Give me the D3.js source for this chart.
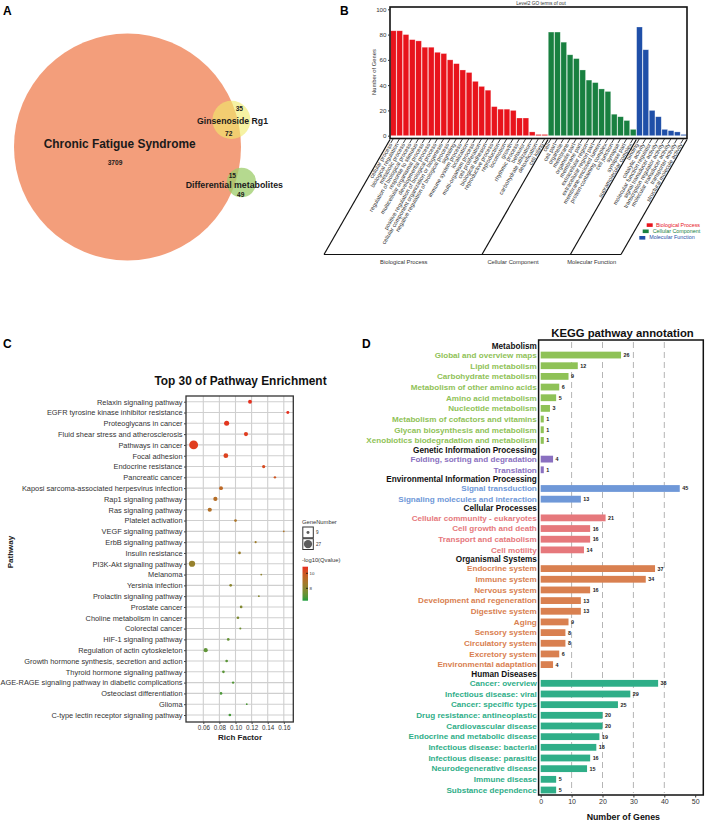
<!DOCTYPE html>
<html><head><meta charset="utf-8">
<script src="https://cdn.jsdelivr.net/npm/d3@7"></script>
<style>body{margin:0;background:#fff}svg{display:block;font-family:"Liberation Sans",Arial,sans-serif}</style>
</head><body><svg id="fig" width="708" height="822"></svg>
<script>
// ---------------- DATA ----------------
// Panel A (Venn)
const vennNames = ["Chronic Fatigue Syndrome", "Ginsenoside Rg1", "Differential metabolites"];
const vennUnique = [3709, 35, 49];
const vennShared = [72, 15]; // CFS ∩ Ginsenoside, CFS ∩ Differential metabolites

// Panel B (GO level 2)
const goBPTerms = ["cellular process","biological regulation","metabolic process","regulation of biological process","response to stimulus","multicellular organismal process","developmental process","positive regulation of biological process","cellular component organization or biogenesis","negative regulation of biological process","signaling","immune system process","localization","multi-organism process","cell proliferation","biological adhesion","reproductive process","reproduction","locomotion","growth","rhythmic process","behavior","carbohydrate utilization","detoxification","cell killing"];
const goBPValues = [83,83,80,76,75,70,70,66,65,60,57,52,50,43,39,36,23,21,21,20,14,14,3,1,1];
const goCCTerms = ["cell","cell part","organelle","membrane","organelle part","membrane part","extracellular region","extracellular region part","membrane-enclosed lumen","protein-containing complex","cell junction","synapse","synapse part","supramolecular complex"];
const goCCValues = [82,82,74,64,61,52,44,42,37,35,17,15,12,5];
const goMFTerms = ["binding","catalytic activity","molecular function regulator","signal transducer activity","transcription regulator activity","molecular transducer activity","transporter activity","structural molecule activity"];
const goMFValues = [86,68,20,15,5,4,3,1];
const goCategories = ["Biological Process","Cellular Component","Molecular Function"];
const goYTicks = [0,20,40,60,80,100];

// Panel C (KEGG enrichment bubble)
const pathways = ["Relaxin signaling pathway","EGFR tyrosine kinase inhibitor resistance","Proteoglycans in cancer","Fluid shear stress and atherosclerosis","Pathways in cancer","Focal adhesion","Endocrine resistance","Pancreatic cancer","Kaposi sarcoma-associated herpesvirus infection","Rap1 signaling pathway","Ras signaling pathway","Platelet activation","VEGF signaling pathway","ErbB signaling pathway","Insulin resistance","PI3K-Akt signaling pathway","Melanoma","Yersinia infection","Prolactin signaling pathway","Prostate cancer","Choline metabolism in cancer","Colorectal cancer","HIF-1 signaling pathway","Regulation of actin cytoskeleton","Growth hormone synthesis, secretion and action","Thyroid hormone signaling pathway","AGE-RAGE signaling pathway in diabetic complications","Osteoclast differentiation","Glioma","C-type lectin receptor signaling pathway"];
const richFactor = [0.118,0.165,0.089,0.113,0.048,0.088,0.135,0.149,0.082,0.075,0.068,0.100,0.160,0.125,0.105,0.046,0.132,0.094,0.129,0.107,0.103,0.106,0.091,0.063,0.089,0.085,0.097,0.082,0.114,0.093];
const geneNumber = [12,9,16,13,29,15,10,7,12,13,13,8,5,6,8,20,5,8,5,8,8,6,8,13,8,8,7,8,5,8];
const negLog10Q = [10.8,10.8,10.7,10.6,10.6,10.5,10.3,10.0,9.4,9.2,9.1,8.9,8.9,8.5,8.4,8.3,8.1,8.0,7.9,7.8,7.7,7.4,7.2,7.1,7.0,7.0,6.9,6.8,6.8,6.7];
const richTicks = [0.06,0.08,0.10,0.12,0.14,0.16];
const sizeLegendValues = [9, 27];
const colorLegendTicks = [8, 10];

// Panel D (KEGG annotation)
const keggClasses = ["Metabolism","Genetic Information Processing","Environmental Information Processing","Cellular Processes","Organismal Systems","Human Diseases"];
const keggTerms = ["Global and overview maps","Lipid metabolism","Carbohydrate metabolism","Metabolism of other amino acids","Amino acid metabolism","Nucleotide metabolism","Metabolism of cofactors and vitamins","Glycan biosynthesis and metabolism","Xenobiotics biodegradation and metabolism",
  "Folding, sorting and degradation","Translation",
  "Signal transduction","Signaling molecules and interaction",
  "Cellular community - eukaryotes","Cell growth and death","Transport and catabolism","Cell motility",
  "Endocrine system","Immune system","Nervous system","Development and regeneration","Digestive system","Aging","Sensory system","Circulatory system","Excretory system","Environmental adaptation",
  "Cancer: overview","Infectious disease: viral","Cancer: specific types","Drug resistance: antineoplastic","Cardiovascular disease","Endocrine and metabolic disease","Infectious disease: bacterial","Infectious disease: parasitic","Neurodegenerative disease","Immune disease","Substance dependence"];
const keggCounts = [26,12,9,6,5,3,1,1,1, 4,1, 45,13, 21,16,16,14, 37,34,16,13,13,9,8,8,6,4, 38,29,25,20,20,19,18,16,15,5,5];
const keggTermClass = [0,0,0,0,0,0,0,0,0, 1,1, 2,2, 3,3,3,3, 4,4,4,4,4,4,4,4,4,4, 5,5,5,5,5,5,5,5,5,5,5];
const keggXTicks = [0,10,20,30,40,50];

// ---------------- STYLE ----------------
const FONT = '"Liberation Sans", Arial, sans-serif';
const goColors = ["#e8141c", "#198040", "#1f4fa8"];
const keggColors = ["#8fc257", "#8a70c0", "#6f98d8", "#e6787c", "#d98050", "#2fae88"];

const svg = d3.select("#fig");
svg.append("rect").attr("width",708).attr("height",822).attr("fill","#fff");

// panel letters
[["A",3,15],["B",340,15],["C",3,348],["D",362,348]].forEach(([t,x,y])=>{
  svg.append("text").attr("x",x).attr("y",y).attr("font-size",12).attr("font-weight","bold").text(t);
});

// ================= PANEL A =================
(function(){
  const g = svg.append("g");
  const total = [vennUnique[0]+vennShared[0]+vennShared[1], vennUnique[1]+vennShared[0], vennUnique[2]+vennShared[1]];
  const r = d3.scaleSqrt().domain([0,total[0]]).range([0,113.5]);
  const c0 = [127.5,147];
  const place = (ang,d)=>[c0[0]+d*Math.cos(ang*Math.PI/180), c0[1]+d*Math.sin(ang*Math.PI/180)];
  const c1 = place(-14.6,107.4), c2 = place(17.3,119.4);
  g.append("circle").attr("cx",c0[0]).attr("cy",c0[1]).attr("r",r(total[0])).attr("fill","#f39e7b");
  g.append("circle").attr("cx",c1[0]).attr("cy",c1[1]).attr("r",r(total[1])).attr("fill","#f0ea6a").attr("fill-opacity",0.62);
  g.append("circle").attr("cx",c2[0]).attr("cy",c2[1]).attr("r",r(total[2])).attr("fill","#9ccc6a").attr("fill-opacity",0.75);
  const t = (x,y,txt,fs)=>g.append("text").attr("x",x).attr("y",y).attr("text-anchor","middle").attr("font-size",fs).attr("font-weight","bold").attr("fill","#1a1a1a").text(txt);
  t(119.7,148,vennNames[0],11.9);
  t(115,164.5,vennUnique[0],6.6);
  t(232.5,124,vennNames[1],8.7);
  t(239.3,111,vennUnique[1],6.6);
  t(228.7,135.5,vennShared[0],6.6);
  t(234.3,187.5,vennNames[2],8.8);
  t(232.3,177.5,vennShared[1],6.6);
  t(240.7,196.5,vennUnique[2],6.6);
})();

// ================= PANEL B =================
(function(){
  const g = svg.append("g");
  const terms = goBPTerms.concat(goCCTerms, goMFTerms);
  const vals = goBPValues.concat(goCCValues, goMFValues);
  const cat = goBPTerms.map(()=>0).concat(goCCTerms.map(()=>1), goMFTerms.map(()=>2));
  const L=390, R=687, T=7, B=138.5;
  const x = d3.scaleBand().domain(d3.range(terms.length)).range([L,R]).paddingInner(0.1).paddingOuter(0.08);
  const y = d3.scaleLinear().domain([0,100]).range([135.7,9.3]);
  g.append("text").attr("x",541).attr("y",5).attr("text-anchor","middle").attr("font-size",4.8).attr("fill","#333").text("Level2 GO terms of out");
  g.selectAll("rect.bar").data(vals).join("rect").attr("class","bar")
    .attr("x",(d,i)=>x(i)).attr("width",x.bandwidth()).attr("y",d=>y(d)).attr("height",d=>y(0)-y(d))
    .attr("fill",(d,i)=>goColors[cat[i]]).attr("stroke","#fff").attr("stroke-opacity",0.45).attr("stroke-width",0.6);
  g.append("rect").attr("x",L).attr("y",T).attr("width",R-L).attr("height",B-T).attr("fill","none").attr("stroke","#111").attr("stroke-width",1.6);
  // y axis
  const ya = g.append("g").attr("transform",`translate(${L},0)`).call(d3.axisLeft(y).tickValues(goYTicks).tickSize(2).tickPadding(1.5));
  ya.select(".domain").remove();
  ya.selectAll("text").attr("font-size",6.2).attr("fill","#333").attr("font-family",FONT);
  ya.selectAll("line").attr("stroke","#333");
  g.append("text").attr("transform","translate(376,72) rotate(-90)").attr("text-anchor","middle").attr("font-size",5.8).attr("fill","#333").text("Number of Genes");
  // slanted ticks and labels
  const dx = -66/115;
  g.selectAll("line.stick").data(vals).join("line").attr("class","stick")
    .attr("x1",(d,i)=>x(i)+x.bandwidth()/2).attr("y1",B).attr("x2",(d,i)=>x(i)+x.bandwidth()/2-2.6).attr("y2",B+4.5)
    .attr("stroke","#111").attr("stroke-width",0.8);
  g.selectAll("text.lab").data(terms).join("text").attr("class","lab")
    .attr("transform",(d,i)=>`translate(${x(i)+x.bandwidth()/2-2.6},${B+5}) rotate(-60)`)
    .attr("text-anchor","end").attr("dy","0.35em").attr("font-size",5.7).attr("fill","#333").text(d=>d);
  // parallelogram frame
  const H = 115;
  const bounds = [L, x(goBPTerms.length)-0.3, x(goBPTerms.length+goCCTerms.length)-0.3, R];
  bounds.forEach(bx=>{
    g.append("line").attr("x1",bx).attr("y1",B+1).attr("x2",bx+dx*H).attr("y2",B+1+H).attr("stroke","#111").attr("stroke-width",1.2);
  });
  g.append("line").attr("x1",L+dx*H).attr("y1",B+1+H).attr("x2",R+dx*H).attr("y2",B+1+H).attr("stroke","#111").attr("stroke-width",1.2);
  const catX = [403.8, 513, 591.7];
  goCategories.forEach((c,i)=>g.append("text").attr("x",catX[i]).attr("y",264).attr("text-anchor","middle").attr("font-size",5.8).attr("fill","#333").text(c));
  // legend
  const leg = [[646.7,223.3,656],[642.7,229.5,652.7],[639.3,236,649.2]];
  goCategories.forEach((c,i)=>{
    g.append("rect").attr("x",leg[i][0]).attr("y",leg[i][1]).attr("width",6).attr("height",3.6).attr("fill",goColors[i]);
    g.append("text").attr("x",leg[i][2]).attr("y",leg[i][1]+3.4).attr("font-size",5.4).attr("fill",goColors[i]).text(c);
  });
})();

// ================= PANEL C =================
(function(){
  const g = svg.append("g");
  const L=186, R=293.3, T=396, B=722;
  const x = d3.scaleLinear().domain([0.06,0.16]).range([203.3,283.8]);
  const y = d3.scalePoint().domain(pathways).range([401.7,715]);
  const rs = d3.scaleLinear().domain([5,30]).range([0.9,4.6]);
  const col = d3.scaleLinear().domain([6.6,10.9]).range(["#3d9b3b","#e8281e"]).interpolate(d3.interpolateLab);
  g.append("text").attr("x",240.5).attr("y",385).attr("text-anchor","middle").attr("font-size",11.9).attr("font-weight","bold").attr("fill","#111").text("Top 30 of Pathway Enrichment");
  // grid
  g.selectAll("line.hg").data(pathways).join("line").attr("class","hg").attr("x1",L).attr("x2",R).attr("y1",d=>y(d)).attr("y2",d=>y(d)).attr("stroke","#cfcfcf").attr("stroke-width",1.1);
  g.selectAll("line.vg").data(richTicks).join("line").attr("class","vg").attr("y1",T).attr("y2",B).attr("x1",d=>x(d)).attr("x2",d=>x(d)).attr("stroke","#cfcfcf").attr("stroke-width",1.1);
  // points
  g.selectAll("circle.pt").data(pathways).join("circle").attr("class","pt")
    .attr("cx",(d,i)=>x(richFactor[i])).attr("cy",d=>y(d)).attr("r",(d,i)=>rs(geneNumber[i])).attr("fill",(d,i)=>col(negLog10Q[i]));
  g.append("rect").attr("x",L).attr("y",T).attr("width",R-L).attr("height",B-T).attr("fill","none").attr("stroke","#333").attr("stroke-width",1.3);
  // y axis
  const ya = g.append("g").attr("transform",`translate(${L},0)`).call(d3.axisLeft(y).tickSize(2).tickPadding(1.5));
  ya.select(".domain").remove();
  ya.selectAll("text").attr("font-size",7.4).attr("fill","#333").attr("font-family",FONT);
  ya.selectAll("line").attr("stroke","#444");
  const xa = g.append("g").attr("transform",`translate(0,${B})`).call(d3.axisBottom(x).tickValues(richTicks).tickFormat(d3.format(".2f")).tickSize(2).tickPadding(1.5));
  xa.select(".domain").remove();
  xa.selectAll("text").attr("font-size",6.3).attr("fill","#333").attr("font-family",FONT);
  xa.selectAll("line").attr("stroke","#444");
  g.append("text").attr("x",240).attr("y",739.5).attr("text-anchor","middle").attr("font-size",8).attr("font-weight","bold").attr("fill","#222").text("Rich Factor");
  g.append("text").attr("transform","translate(13,552) rotate(-90)").attr("text-anchor","middle").attr("font-size",8).attr("font-weight","bold").attr("fill","#222").text("Pathway");
  // size legend
  g.append("text").attr("x",302).attr("y",523.5).attr("font-size",5.8).attr("fill","#333").text("GeneNumber");
  sizeLegendValues.forEach((v,i)=>{
    const by = 527+i*11.7;
    g.append("rect").attr("x",302.8).attr("y",by).attr("width",10.5).attr("height",10.8).attr("fill","#fff").attr("stroke","#333").attr("stroke-width",1);
    g.append("circle").attr("cx",308).attr("cy",by+5.4).attr("r",rs(v)).attr("fill","#5c5c5c");
    g.append("text").attr("x",316).attr("y",by+7.2).attr("font-size",4.6).attr("fill","#333").text(v);
  });
  // color legend
  g.append("text").attr("x",302).attr("y",562).attr("font-size",5.8).attr("fill","#333").text("-log10(Qvalue)");
  const defs = svg.append("defs");
  const grad = defs.append("linearGradient").attr("id","qgrad").attr("x1",0).attr("x2",0).attr("y1",1).attr("y2",0);
  const cb = d3.scaleLinear().domain([6.35,10.88]).range([600.7,566.7]);
  d3.range(0,1.0001,0.1).forEach(t=>{
    const v = 6.35 + t*(10.88-6.35);
    grad.append("stop").attr("offset",t).attr("stop-color",col(v));
  });
  g.append("rect").attr("x",302.5).attr("y",566.7).attr("width",5.5).attr("height",34).attr("fill","url(#qgrad)");
  colorLegendTicks.forEach(v=>{
    g.append("line").attr("x1",306).attr("x2",308).attr("y1",cb(v)).attr("y2",cb(v)).attr("stroke","#111").attr("stroke-width",0.8);
    g.append("text").attr("x",309.5).attr("y",cb(v)+1.6).attr("font-size",4.4).attr("fill","#333").text(v);
  });
})();

// ================= PANEL D =================
(function(){
  const g = svg.append("g");
  const rows = [];
  let u = 0, first = true;
  keggClasses.forEach((c,ci)=>{
    if(!first) u += 0.877;
    first = false;
    rows.push({header:true, label:c, ci, u});
    let firstItem = true;
    keggTerms.forEach((t,i)=>{
      if(keggTermClass[i]!==ci) return;
      u += firstItem ? 0.877 : 1;
      firstItem = false;
      rows.push({header:false, label:t, ci, u, v:keggCounts[i]});
    });
  });
  const y = d3.scaleLinear().domain([0,u]).range([345.7,790]);
  const x = d3.scaleLinear().domain([0,50]).range([540.7,695.2]);
  const L=538.6, R=703.3, T=340, B=795;
  g.append("text").attr("x",622.5).attr("y",336.5).attr("text-anchor","middle").attr("font-size",11.3).attr("font-weight","bold").attr("fill","#111").text("KEGG pathway annotation");
  g.selectAll("line.vg").data(keggXTicks.filter(d=>d>0&&d<50)).join("line").attr("class","vg")
    .attr("x1",d=>x(d)).attr("x2",d=>x(d)).attr("y1",T+2).attr("y2",B-2).attr("stroke","#b5b5b5").attr("stroke-width",1).attr("stroke-dasharray","6,4");
  const items = rows.filter(r=>!r.header);
  g.selectAll("rect.bar").data(items).join("rect").attr("class","bar")
    .attr("x",x(0)).attr("y",d=>y(d.u)-3.4).attr("height",6.8).attr("width",d=>x(d.v)-x(0)).attr("fill",d=>keggColors[d.ci]);
  g.selectAll("text.val").data(items).join("text").attr("class","val")
    .attr("x",d=>x(d.v)+2.5).attr("y",d=>y(d.u)+2).attr("font-size",5.4).attr("font-weight","bold").attr("fill","#222").text(d=>d.v);
  g.selectAll("text.lab").data(rows).join("text").attr("class","lab")
    .attr("x",536.8).attr("y",d=>y(d.u)+2.8).attr("text-anchor","end")
    .attr("font-size",d=>d.header?8.2:8.1).attr("font-weight","bold")
    .attr("fill",d=>d.header?"#111":keggColors[d.ci]).text(d=>d.label);
  g.append("rect").attr("x",L).attr("y",T).attr("width",R-L).attr("height",B-T).attr("fill","none").attr("stroke","#111").attr("stroke-width",1.5);
  const xa = g.append("g").attr("transform",`translate(0,${B})`).call(d3.axisBottom(x).tickValues(keggXTicks).tickSize(2.5).tickPadding(1.5));
  xa.select(".domain").remove();
  xa.selectAll("text").attr("font-size",7).attr("fill","#333").attr("font-family",FONT);
  xa.selectAll("line").attr("stroke","#333");
  g.append("text").attr("x",623.3).attr("y",819.5).attr("text-anchor","middle").attr("font-size",8.8).attr("font-weight","bold").attr("fill","#111").text("Number of Genes");
})();
</script></body></html>
